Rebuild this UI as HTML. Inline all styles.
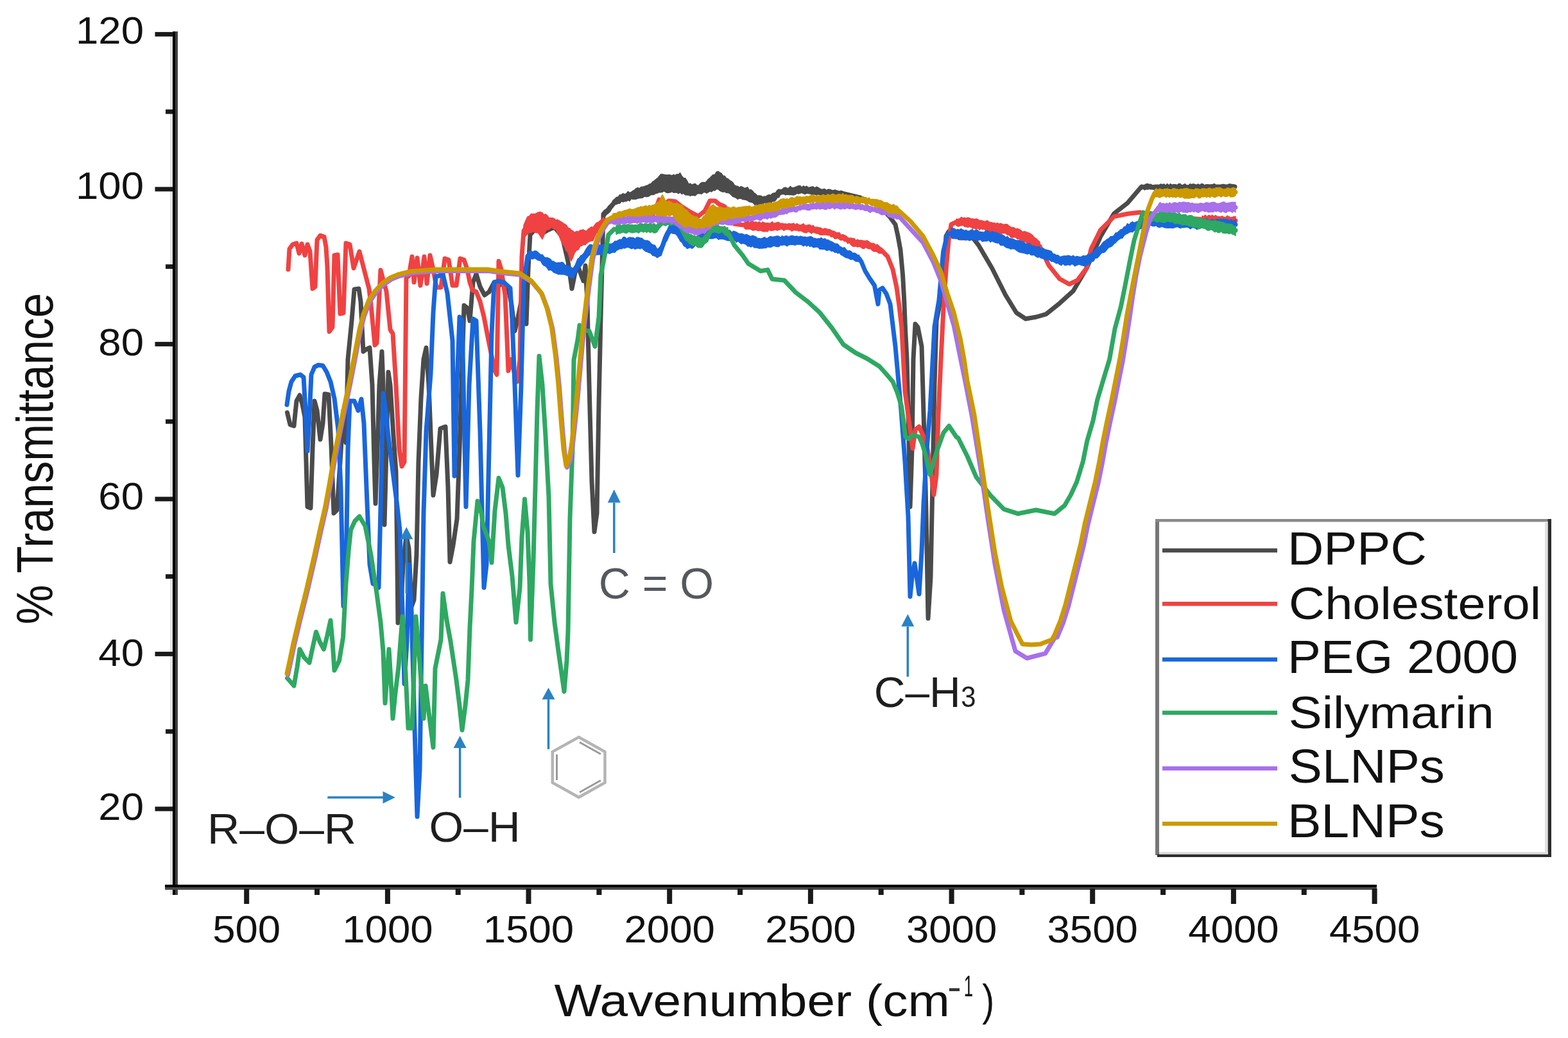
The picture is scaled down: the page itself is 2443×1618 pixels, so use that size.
<!DOCTYPE html>
<html><head><meta charset="utf-8"><title>FTIR spectra</title>
<style>html,body{margin:0;padding:0;background:#fff;} body{width:2443px;height:1618px;overflow:hidden;} svg{display:block;}</style>
</head><body>
<svg width="2443" height="1618" viewBox="0 0 2443 1618">
<rect x="0" y="0" width="2443" height="1618" fill="#fff"/>
<g id="axes">
<rect x="265" y="50" width="4" height="1345" fill="#e3e3e3"/>
<rect x="269" y="49" width="4" height="1346" fill="#000"/>
<rect x="273" y="49" width="4" height="1346" fill="#404040"/>
<rect x="257" y="1379" width="1888" height="4" fill="#000"/>
<rect x="257" y="1383" width="1888" height="4" fill="#4a4a4a"/>
<rect x="241.5" y="1257.4" width="28" height="7" fill="#1a1a1a"/>
<rect x="241.5" y="1015.9" width="28" height="7" fill="#1a1a1a"/>
<rect x="241.5" y="774.4" width="28" height="7" fill="#1a1a1a"/>
<rect x="241.5" y="532.9" width="28" height="7" fill="#1a1a1a"/>
<rect x="241.5" y="291.4" width="28" height="7" fill="#1a1a1a"/>
<rect x="241.5" y="49.9" width="28" height="7" fill="#1a1a1a"/>
<rect x="258" y="1136.7" width="11" height="7" fill="#1a1a1a"/>
<rect x="258" y="895.1" width="11" height="7" fill="#1a1a1a"/>
<rect x="258" y="653.6" width="11" height="7" fill="#1a1a1a"/>
<rect x="258" y="412.1" width="11" height="7" fill="#1a1a1a"/>
<rect x="258" y="170.6" width="11" height="7" fill="#1a1a1a"/>
<rect x="380.2" y="1385" width="8" height="24" fill="#1a1a1a"/>
<rect x="599.9" y="1385" width="8" height="24" fill="#1a1a1a"/>
<rect x="819.5" y="1385" width="8" height="24" fill="#1a1a1a"/>
<rect x="1039.2" y="1385" width="8" height="24" fill="#1a1a1a"/>
<rect x="1258.9" y="1385" width="8" height="24" fill="#1a1a1a"/>
<rect x="1478.6" y="1385" width="8" height="24" fill="#1a1a1a"/>
<rect x="1698.2" y="1385" width="8" height="24" fill="#1a1a1a"/>
<rect x="1917.9" y="1385" width="8" height="24" fill="#1a1a1a"/>
<rect x="2137.6" y="1385" width="8" height="24" fill="#1a1a1a"/>
<rect x="490.0" y="1385" width="8" height="10" fill="#1a1a1a"/>
<rect x="709.7" y="1385" width="8" height="10" fill="#1a1a1a"/>
<rect x="929.4" y="1385" width="8" height="10" fill="#1a1a1a"/>
<rect x="1149.1" y="1385" width="8" height="10" fill="#1a1a1a"/>
<rect x="1368.7" y="1385" width="8" height="10" fill="#1a1a1a"/>
<rect x="1588.4" y="1385" width="8" height="10" fill="#1a1a1a"/>
<rect x="1808.1" y="1385" width="8" height="10" fill="#1a1a1a"/>
<rect x="2027.8" y="1385" width="8" height="10" fill="#1a1a1a"/>
</g>
<g font-family="'Liberation Sans', Arial, Helvetica, sans-serif" fill="#111">
<text x="224" y="68.3" font-size="59.4" text-anchor="end" transform="translate(224 0) scale(1.07 1) translate(-224 0)">120</text>
<text x="224" y="310.3" font-size="59.4" text-anchor="end" transform="translate(224 0) scale(1.07 1) translate(-224 0)">100</text>
<text x="224" y="554.3" font-size="59.4" text-anchor="end" transform="translate(224 0) scale(1.07 1) translate(-224 0)">80</text>
<text x="224" y="794.3" font-size="59.4" text-anchor="end" transform="translate(224 0) scale(1.07 1) translate(-224 0)">60</text>
<text x="224" y="1038.3" font-size="59.4" text-anchor="end" transform="translate(224 0) scale(1.07 1) translate(-224 0)">40</text>
<text x="224" y="1278.3" font-size="59.4" text-anchor="end" transform="translate(224 0) scale(1.07 1) translate(-224 0)">20</text>
<text x="384.2" y="1469" font-size="59.4" text-anchor="middle" transform="translate(384.2 0) scale(1.07 1) translate(-384.2 0)">500</text>
<text x="603.9" y="1469" font-size="59.4" text-anchor="middle" transform="translate(603.9 0) scale(1.07 1) translate(-603.9 0)">1000</text>
<text x="823.5" y="1469" font-size="59.4" text-anchor="middle" transform="translate(823.5 0) scale(1.07 1) translate(-823.5 0)">1500</text>
<text x="1043.2" y="1469" font-size="59.4" text-anchor="middle" transform="translate(1043.2 0) scale(1.07 1) translate(-1043.2 0)">2000</text>
<text x="1262.9" y="1469" font-size="59.4" text-anchor="middle" transform="translate(1262.9 0) scale(1.07 1) translate(-1262.9 0)">2500</text>
<text x="1482.6" y="1469" font-size="59.4" text-anchor="middle" transform="translate(1482.6 0) scale(1.07 1) translate(-1482.6 0)">3000</text>
<text x="1702.2" y="1469" font-size="59.4" text-anchor="middle" transform="translate(1702.2 0) scale(1.07 1) translate(-1702.2 0)">3500</text>
<text x="1921.9" y="1469" font-size="59.4" text-anchor="middle" transform="translate(1921.9 0) scale(1.07 1) translate(-1921.9 0)">4000</text>
<text x="2141.6" y="1469" font-size="59.4" text-anchor="middle" transform="translate(2141.6 0) scale(1.07 1) translate(-2141.6 0)">4500</text>
</g>
<g transform="matrix(1.0902 0 0 0.9791 -77.44 32.81)"><text font-family="'Liberation Sans', Arial, Helvetica, sans-serif" font-size="72" fill="#111" x="863" y="1584.4">Wavenumber (cm</text></g>
<g transform="matrix(1.4818 0 0 1.3333 -715.57 -516.33)"><text font-family="'Liberation Sans', Arial, Helvetica, sans-serif" font-size="44.5" fill="#333" x="1479" y="1556">-</text></g>
<g transform="matrix(0.5800 0 0 1.0226 631.66 -34.87)"><text font-family="'Liberation Sans', Arial, Helvetica, sans-serif" font-size="44.5" fill="#111" x="1500" y="1553.2">1</text></g>
<g transform="matrix(0.7895 0 0 0.9478 323.89 81.03)"><text font-family="'Liberation Sans', Arial, Helvetica, sans-serif" font-size="72" fill="#111" x="1528" y="1584.4">)</text></g>
<g transform="matrix(1.1057 0 0 0.9631 -9.28 37.97)"><text font-family="'Liberation Sans', Arial, Helvetica, sans-serif" font-size="72" fill="#111" transform="translate(83 971) rotate(-90)" x="0" y="0">% Transmittance</text></g>
<g id="curves">
<polyline points="447.5,643.0 452.0,662.0 458.0,664.0 462.0,625.0 467.0,616.0 471.0,630.0 475.0,650.0 479.0,790.0 484.0,792.0 487.0,700.0 490.0,625.0 494.0,640.0 499.0,685.0 503.0,660.0 506.0,614.0 512.0,615.0 516.0,694.0 520.0,800.0 525.0,795.0 530.0,720.0 535.0,640.0 539.0,690.0 542.0,560.0 548.0,500.0 552.0,451.0 559.0,450.0 562.0,470.0 566.0,548.0 570.0,545.0 576.0,542.0 580.0,600.0 583.0,720.0 585.0,785.0 588.0,700.0 591.0,600.0 595.0,548.0 597.0,600.0 599.0,818.0 602.0,700.0 605.0,580.0 608.0,600.0 613.0,680.0 617.0,735.0 619.0,880.0 620.0,971.0 624.0,962.0 628.0,880.0 633.0,835.0 637.0,855.0 641.0,946.0 645.0,935.0 649.0,864.0 652.0,720.0 656.0,620.0 660.0,560.0 664.0,542.0 668.0,600.0 672.0,700.0 675.0,772.0 680.0,740.0 686.0,668.0 694.0,665.0 698.0,760.0 701.0,876.0 706.0,850.0 712.0,809.0 716.0,700.0 719.0,600.0 723.0,476.0 728.0,480.0 732.0,500.0 737.0,440.0 742.0,427.0 748.0,447.0 755.0,460.0 762.0,455.0 770.0,440.0 778.0,445.0 785.0,440.0 792.0,450.0 797.0,475.0 802.0,516.0 807.0,495.0 812.0,470.0 817.0,470.0 820.0,505.0 823.0,420.0 826.0,366.0 834.0,357.0 846.0,363.0 855.0,358.0 864.0,354.0 876.0,369.0 885.0,408.0 891.0,450.0 896.0,425.0 900.0,414.0 906.0,430.0 909.0,438.0 912.0,414.0 915.0,470.0 918.0,600.0 922.0,750.0 926.0,829.0 930.0,800.0 933.0,630.0 936.0,495.0 940.0,333.7 950.4,324.3 960.6,312.0 976.0,307.0 991.0,302.0 1006.5,298.5 1022.0,290.3 1032.0,284.5 1047.0,286.8 1059.6,285.5 1073.0,295.4 1088.0,295.9 1103.5,289.8 1118.8,281.0 1134.0,290.3 1149.4,299.9 1164.7,303.0 1175.0,308.5 1180.0,313.5 1190.6,312.0 1206.0,307.9 1216.0,299.4 1231.4,297.2 1251.8,296.2 1272.0,297.8 1292.6,299.8 1313.0,301.4 1340.0,308.0 1360.0,316.0 1375.0,326.0 1387.0,339.0 1395.0,350.0 1399.0,368.0 1403.0,390.0 1406.5,428.0 1408.7,467.0 1410.7,517.0 1413.0,560.0 1415.0,640.0 1418.0,790.0 1421.0,700.0 1423.0,560.0 1426.0,505.0 1430.0,510.0 1436.0,540.0 1440.0,680.0 1443.0,800.0 1446.0,964.0 1450.0,900.0 1453.0,750.0 1456.0,600.0 1459.0,500.0 1465.0,470.0 1470.0,428.0 1474.0,368.0 1478.0,361.0 1495.0,371.0 1516.0,371.0 1524.5,382.0 1545.6,418.0 1566.7,460.0 1583.6,487.5 1598.0,497.0 1615.0,494.0 1630.0,489.6 1651.0,472.7 1672.0,453.7 1693.0,418.0 1714.5,369.0 1735.6,333.0 1756.7,316.5 1778.0,291.5 1800.0,292.0 1830.0,291.0 1860.0,292.0 1890.0,291.0 1924.0,291.0" fill="none" stroke="#4b4b4b" stroke-width="7.0" stroke-linejoin="round" stroke-linecap="round" />
<polygon points="940.0,329.4 942.6,327.1 945.2,325.7 947.8,321.5 950.4,319.0 953.0,316.3 955.5,312.0 958.0,310.0 960.6,307.4 963.2,306.9 965.7,303.7 968.3,303.4 970.9,301.7 973.4,303.0 976.0,301.6 978.5,298.5 981.0,300.5 983.5,299.5 986.0,297.5 988.5,296.4 991.0,293.9 993.6,292.8 996.2,293.8 998.8,291.6 1001.3,291.3 1003.9,290.8 1006.5,289.5 1009.1,289.0 1011.7,287.0 1014.2,286.4 1016.8,283.5 1019.4,281.9 1022.0,279.6 1024.5,277.7 1027.0,274.7 1029.5,271.7 1032.0,271.6 1034.5,272.3 1037.0,272.6 1039.5,272.9 1042.0,272.4 1044.5,272.9 1047.0,273.8 1049.5,272.2 1052.0,273.6 1054.6,271.5 1057.1,272.0 1059.6,269.6 1062.3,274.6 1065.0,277.4 1067.6,277.8 1070.3,281.6 1073.0,287.0 1075.5,286.1 1078.0,288.3 1080.5,286.9 1083.0,286.4 1085.5,288.7 1088.0,289.7 1090.6,286.7 1093.2,284.7 1095.8,284.2 1098.3,284.8 1100.9,282.8 1103.5,279.4 1106.0,277.5 1108.6,274.8 1111.2,272.4 1113.7,272.5 1116.2,268.2 1118.8,267.2 1121.3,268.9 1123.9,270.2 1126.4,274.0 1128.9,274.2 1131.5,278.0 1134.0,278.4 1136.6,281.2 1139.1,282.4 1141.7,284.5 1144.3,288.6 1146.8,289.9 1149.4,290.2 1152.0,292.4 1154.5,290.6 1157.1,291.6 1159.6,293.4 1162.2,293.1 1164.7,291.7 1167.3,296.3 1169.8,295.6 1172.4,297.5 1175.0,300.9 1177.5,302.5 1180.0,305.3 1182.7,304.9 1185.3,305.2 1187.9,307.0 1190.6,306.2 1193.2,306.3 1195.7,304.5 1198.3,303.8 1200.9,304.3 1203.4,301.8 1206.0,301.0 1208.5,300.4 1211.0,296.7 1213.5,295.1 1216.0,296.0 1218.6,295.2 1221.1,292.9 1223.7,292.2 1226.3,293.4 1228.8,293.5 1231.4,290.6 1234.0,292.9 1236.5,292.6 1239.0,291.6 1241.6,290.8 1244.2,289.7 1246.7,289.4 1249.2,292.2 1251.8,289.8 1254.3,291.5 1256.8,290.3 1259.4,292.4 1261.9,292.0 1264.4,291.3 1267.0,291.1 1269.5,293.1 1272.0,291.3 1274.6,292.3 1277.2,293.9 1279.7,295.3 1282.3,295.1 1284.9,294.5 1287.4,297.0 1290.0,295.3 1292.6,295.2 1295.1,296.2 1297.7,297.1 1300.2,296.1 1302.8,296.7 1305.3,297.6 1307.9,298.5 1310.5,297.4 1313.0,298.4 1313.0,303.9 1310.5,305.3 1307.9,304.7 1305.3,304.8 1302.8,303.7 1300.2,302.9 1297.7,304.5 1295.1,303.4 1292.6,302.8 1290.0,301.7 1287.4,303.6 1284.9,304.3 1282.3,301.6 1279.7,304.2 1277.2,303.8 1274.6,302.6 1272.0,303.7 1269.5,303.1 1267.0,302.7 1264.4,303.1 1261.9,301.9 1259.4,301.5 1256.8,301.0 1254.3,302.6 1251.8,301.7 1249.2,300.4 1246.7,301.0 1244.2,302.1 1241.6,301.4 1239.0,303.1 1236.5,304.1 1234.0,303.7 1231.4,303.4 1228.8,303.5 1226.3,303.1 1223.7,303.9 1221.1,302.2 1218.6,302.7 1216.0,303.2 1213.5,307.8 1211.0,308.0 1208.5,312.1 1206.0,313.8 1203.4,313.8 1200.9,316.6 1198.3,315.4 1195.7,316.6 1193.2,317.3 1190.6,315.5 1187.9,319.2 1185.3,317.5 1182.7,318.6 1180.0,320.8 1177.5,320.5 1175.0,318.1 1172.4,315.4 1169.8,315.0 1167.3,314.4 1164.7,312.7 1162.2,311.4 1159.6,310.9 1157.1,310.8 1154.5,309.3 1152.0,309.0 1149.4,310.4 1146.8,308.3 1144.3,307.4 1141.7,306.1 1139.1,303.7 1136.6,301.2 1134.0,300.4 1131.5,300.3 1128.9,298.6 1126.4,299.2 1123.9,298.3 1121.3,297.0 1118.8,294.8 1116.2,294.7 1113.7,296.9 1111.2,296.4 1108.6,298.9 1106.0,298.1 1103.5,299.5 1100.9,301.0 1098.3,299.3 1095.8,300.0 1093.2,302.2 1090.6,301.7 1088.0,301.4 1085.5,302.6 1083.0,305.0 1080.5,304.4 1078.0,304.3 1075.5,305.3 1073.0,304.1 1070.3,304.1 1067.6,303.7 1065.0,301.1 1062.3,302.6 1059.6,299.7 1057.1,301.7 1054.6,300.0 1052.0,300.1 1049.5,300.2 1047.0,298.6 1044.5,299.7 1042.0,300.2 1039.5,300.6 1037.0,299.4 1034.5,297.7 1032.0,299.3 1029.5,299.8 1027.0,299.6 1024.5,300.9 1022.0,301.2 1019.4,303.0 1016.8,303.6 1014.2,303.2 1011.7,305.5 1009.1,306.4 1006.5,306.6 1003.9,306.0 1001.3,308.3 998.8,308.4 996.2,308.7 993.6,309.3 991.0,310.3 988.5,310.4 986.0,310.5 983.5,309.6 981.0,313.3 978.5,311.8 976.0,313.7 973.4,313.6 970.9,314.8 968.3,313.5 965.7,317.1 963.2,317.0 960.6,318.3 958.0,318.6 955.5,321.8 953.0,325.3 950.4,329.9 947.8,332.3 945.2,334.2 942.6,337.3 940.0,339.1" fill="#4b4b4b" stroke="#4b4b4b" stroke-width="1.5" stroke-linejoin="round"/>
<polygon points="1778.0,287.9 1780.5,288.5 1783.1,288.5 1785.6,286.9 1788.1,286.4 1790.7,287.6 1793.2,287.3 1795.7,289.0 1798.3,288.6 1800.8,288.3 1803.3,288.2 1805.9,288.5 1808.4,286.9 1810.9,287.8 1813.5,286.9 1816.0,289.3 1818.6,286.6 1821.1,289.0 1823.6,286.6 1826.2,288.6 1828.7,287.5 1831.2,287.7 1833.8,289.1 1836.3,286.5 1838.8,286.6 1841.4,289.3 1843.9,288.0 1846.4,286.7 1849.0,289.6 1851.5,289.4 1854.0,286.8 1856.6,287.8 1859.1,286.8 1861.6,287.4 1864.2,288.4 1866.7,286.9 1869.2,288.6 1871.8,286.6 1874.3,286.9 1876.8,289.0 1879.4,287.7 1881.9,287.7 1884.4,288.3 1887.0,287.9 1889.5,287.6 1892.1,286.5 1894.6,288.7 1897.1,289.5 1899.7,289.5 1902.2,288.5 1904.7,287.5 1907.3,287.6 1909.8,288.6 1912.3,288.6 1914.9,286.8 1917.4,287.2 1919.9,287.6 1922.5,288.0 1925.0,289.0 1925.0,296.4 1922.5,294.3 1919.9,296.2 1917.4,294.3 1914.9,293.9 1912.3,296.3 1909.8,296.4 1907.3,294.2 1904.7,295.4 1902.2,294.9 1899.7,295.1 1897.1,294.1 1894.6,295.4 1892.1,296.1 1889.5,295.9 1887.0,294.4 1884.4,293.5 1881.9,295.0 1879.4,296.6 1876.8,296.5 1874.3,295.4 1871.8,293.5 1869.2,293.4 1866.7,294.2 1864.2,294.5 1861.6,295.9 1859.1,294.3 1856.6,293.4 1854.0,296.3 1851.5,295.8 1849.0,294.0 1846.4,294.6 1843.9,296.4 1841.4,293.9 1838.8,296.5 1836.3,294.9 1833.8,296.5 1831.2,294.9 1828.7,294.3 1826.2,294.1 1823.6,294.9 1821.1,293.6 1818.6,295.4 1816.0,294.5 1813.5,294.3 1810.9,293.5 1808.4,295.6 1805.9,294.0 1803.3,295.2 1800.8,293.7 1798.3,295.9 1795.7,294.6 1793.2,294.8 1790.7,294.1 1788.1,295.1 1785.6,294.8 1783.1,296.0 1780.5,293.5 1778.0,295.0" fill="#4b4b4b" stroke="#4b4b4b" stroke-width="1.5" stroke-linejoin="round"/>
<polyline points="449.0,420.0 451.0,388.0 456.0,381.0 462.0,379.0 466.0,395.0 470.0,380.0 475.0,398.0 479.0,381.0 483.0,392.0 487.0,450.0 491.0,447.0 494.0,374.0 499.0,367.0 505.0,369.0 508.0,385.0 510.0,416.0 513.0,517.0 518.0,510.0 521.0,398.0 526.0,397.0 530.0,489.0 535.0,488.0 539.0,379.0 545.0,381.0 551.0,418.0 560.0,392.0 569.0,427.0 575.0,450.0 578.0,475.0 584.0,538.0 587.0,535.0 593.0,421.0 598.0,440.0 602.0,454.0 608.0,514.0 612.0,520.0 617.0,600.0 622.0,700.0 626.0,727.0 630.0,720.0 633.0,433.0 637.0,430.0 642.0,400.0 645.0,440.0 650.0,402.0 655.0,445.0 661.0,400.0 665.0,442.0 670.0,398.0 675.0,420.0 680.0,448.0 687.0,448.0 693.0,403.0 699.0,405.0 705.0,445.0 711.0,445.0 717.0,403.0 723.0,405.0 728.0,420.0 732.0,440.0 736.0,452.0 742.0,455.0 748.0,470.0 754.0,494.0 759.0,520.0 765.0,550.0 771.0,578.0 774.0,584.0 777.0,407.0 781.0,420.0 787.0,460.0 792.0,578.0 797.0,560.0 801.0,580.0 806.0,595.0 810.0,560.0 813.0,400.0 816.0,360.0 822.0,351.0 830.0,346.5 838.0,346.5 845.0,353.0 850.0,347.5 858.0,347.0 866.0,350.0 876.0,362.0 885.0,375.0 890.0,384.0 895.0,378.5 904.0,372.5 914.0,369.5 924.0,364.5 932.0,353.0 940.0,345.0 940.0,345.0 960.0,343.0 980.0,342.0 1000.0,342.0 1015.0,338.0 1022.0,325.0 1027.0,311.0 1033.0,320.0 1042.0,313.0 1052.0,314.0 1062.0,322.0 1073.0,329.0 1088.0,337.0 1098.0,329.0 1106.0,313.0 1114.0,313.0 1120.0,318.0 1129.0,322.0 1136.0,335.0 1144.0,349.0 1160.0,350.9 1190.6,353.4 1221.0,352.9 1251.8,355.4 1272.0,359.0 1292.6,363.0 1313.0,370.5 1333.5,379.2 1354.0,382.3 1374.0,390.6 1383.0,400.0 1391.0,420.0 1397.0,448.0 1401.0,477.0 1404.8,510.0 1410.0,610.0 1415.0,647.0 1418.0,670.0 1422.0,699.0 1426.0,670.0 1432.0,665.0 1439.0,681.0 1445.0,700.0 1450.0,730.0 1455.0,771.0 1459.0,740.0 1462.0,647.0 1466.0,560.0 1470.0,480.0 1474.0,420.0 1478.0,375.0 1482.0,350.0 1490.0,346.0 1503.0,346.0 1566.7,357.5 1609.0,374.5 1620.0,384.0 1634.0,413.6 1651.0,434.7 1666.0,443.0 1678.6,436.8 1693.0,418.0 1700.0,388.0 1714.5,358.7 1735.6,337.6 1756.7,333.3 1775.7,331.0 1800.0,335.0 1830.0,338.0 1873.0,342.0 1925.0,344.0" fill="none" stroke="#f04242" stroke-width="7.0" stroke-linejoin="round" stroke-linecap="round" />
<polygon points="816.0,351.3 819.0,344.1 822.0,337.9 824.7,337.0 827.3,333.6 830.0,333.4 832.7,333.6 835.3,332.9 838.0,331.2 841.5,330.4 845.0,331.7 847.5,335.1 850.0,333.7 852.7,336.1 855.3,339.8 858.0,339.8 860.7,339.7 863.3,340.7 866.0,343.3 868.5,342.5 871.0,343.8 873.5,345.4 876.0,347.0 879.0,349.0 882.0,350.7 885.0,355.2 887.5,356.0 890.0,358.7 892.5,360.0 895.0,362.6 898.0,360.6 901.0,361.3 904.0,358.9 906.5,358.5 909.0,358.0 911.5,359.9 914.0,360.1 916.5,356.9 919.0,355.7 921.5,353.7 924.0,354.5 926.7,350.7 929.3,347.5 932.0,346.5 934.7,344.3 937.3,341.8 940.0,338.9 940.0,349.4 937.3,352.2 934.7,356.8 932.0,360.5 929.3,363.5 926.7,368.4 924.0,375.0 921.5,375.4 919.0,376.0 916.5,377.3 914.0,379.4 911.5,381.8 909.0,381.2 906.5,383.0 904.0,383.7 901.0,389.1 898.0,390.3 895.0,394.5 892.5,401.4 890.0,406.8 887.5,402.0 885.0,393.6 882.0,390.2 879.0,383.8 876.0,379.4 873.5,373.7 871.0,367.4 868.5,363.5 866.0,356.4 863.3,357.9 860.7,354.1 858.0,355.1 855.3,357.6 852.7,357.8 850.0,360.1 847.5,367.3 845.0,372.8 841.5,367.5 838.0,362.3 835.3,362.9 832.7,361.3 830.0,361.2 827.3,363.0 824.7,362.3 822.0,364.8 819.0,367.7 816.0,370.4" fill="#f04242" stroke="#f04242" stroke-width="1.5" stroke-linejoin="round"/>
<polygon points="940.0,339.9 942.5,341.4 945.0,340.9 947.5,340.2 950.0,339.1 952.5,340.7 955.0,340.5 957.5,339.3 960.0,339.0 962.5,338.0 965.0,337.2 967.5,338.2 970.0,338.8 972.5,337.0 975.0,339.2 977.5,337.3 980.0,337.1 982.5,336.5 985.0,339.6 987.5,338.8 990.0,339.2 992.5,338.4 995.0,336.5 997.5,337.5 1000.0,338.0 1000.0,345.9 997.5,344.8 995.0,346.7 992.5,346.3 990.0,346.8 987.5,346.8 985.0,347.3 982.5,347.5 980.0,345.1 977.5,347.0 975.0,345.4 972.5,347.5 970.0,345.0 967.5,345.6 965.0,346.7 962.5,346.4 960.0,347.2 957.5,347.1 955.0,348.9 952.5,346.5 950.0,349.0 947.5,347.1 945.0,348.1 942.5,350.2 940.0,347.8" fill="#f04242" stroke="#f04242" stroke-width="1.5" stroke-linejoin="round"/>
<polygon points="1160.0,347.2 1162.5,344.6 1165.1,344.3 1167.7,347.5 1170.2,345.0 1172.8,344.9 1175.3,346.7 1177.8,345.8 1180.4,347.6 1182.9,345.6 1185.5,348.0 1188.0,346.0 1190.6,347.0 1193.1,348.2 1195.7,347.5 1198.2,348.3 1200.7,347.7 1203.3,345.7 1205.8,348.5 1208.3,347.6 1210.9,346.8 1213.4,346.5 1215.9,348.7 1218.5,348.0 1221.0,349.2 1223.6,348.8 1226.1,349.6 1228.7,348.5 1231.3,349.1 1233.8,349.0 1236.4,348.0 1239.0,350.4 1241.5,348.5 1244.1,350.2 1246.7,350.9 1249.2,350.1 1251.8,348.7 1254.3,351.4 1256.8,351.4 1259.4,350.4 1261.9,350.5 1264.4,352.5 1267.0,351.5 1269.5,354.8 1272.0,354.0 1274.6,354.6 1277.2,354.7 1279.7,356.0 1282.3,357.3 1284.9,355.9 1287.4,356.6 1290.0,357.8 1292.6,357.4 1295.1,359.3 1297.7,360.1 1300.2,360.8 1302.8,362.6 1305.3,363.1 1307.9,362.7 1310.5,366.6 1313.0,365.5 1315.6,366.8 1318.1,367.7 1320.7,370.4 1323.2,371.4 1325.8,371.0 1328.4,371.7 1330.9,371.7 1333.5,375.3 1336.1,373.3 1338.6,374.9 1341.2,374.6 1343.8,375.0 1346.3,375.4 1348.9,375.3 1351.4,375.1 1354.0,377.1 1356.5,379.0 1359.0,379.6 1361.5,379.2 1364.0,381.9 1366.5,380.9 1369.0,383.1 1371.5,385.5 1374.0,386.8 1374.0,394.7 1371.5,394.7 1369.0,394.8 1366.5,392.2 1364.0,391.8 1361.5,391.9 1359.0,390.6 1356.5,387.6 1354.0,388.0 1351.4,386.8 1348.9,385.3 1346.3,387.5 1343.8,387.2 1341.2,385.2 1338.6,384.1 1336.1,385.0 1333.5,383.6 1330.9,384.4 1328.4,383.7 1325.8,381.4 1323.2,378.2 1320.7,379.4 1318.1,375.9 1315.6,376.1 1313.0,373.5 1310.5,374.5 1307.9,373.2 1305.3,371.0 1302.8,372.0 1300.2,371.9 1297.7,368.7 1295.1,369.4 1292.6,366.6 1290.0,366.8 1287.4,366.1 1284.9,365.7 1282.3,365.9 1279.7,366.2 1277.2,365.8 1274.6,364.1 1272.0,364.0 1269.5,362.7 1267.0,361.8 1264.4,364.0 1261.9,362.1 1259.4,360.6 1256.8,362.8 1254.3,362.7 1251.8,361.8 1249.2,360.3 1246.7,359.6 1244.1,360.2 1241.5,358.7 1239.0,359.0 1236.4,358.5 1233.8,360.4 1231.3,358.2 1228.7,357.8 1226.1,357.3 1223.6,357.8 1221.0,359.5 1218.5,356.7 1215.9,357.6 1213.4,358.3 1210.9,359.3 1208.3,357.8 1205.8,358.5 1203.3,359.6 1200.7,359.3 1198.2,358.0 1195.7,361.1 1193.1,360.2 1190.6,361.0 1188.0,360.6 1185.5,358.9 1182.9,359.5 1180.4,359.4 1177.8,358.2 1175.3,358.8 1172.8,359.2 1170.2,357.6 1167.7,357.1 1165.1,356.7 1162.5,357.4 1160.0,355.9" fill="#f04242" stroke="#f04242" stroke-width="1.5" stroke-linejoin="round"/>
<polygon points="1490.0,341.4 1492.6,341.4 1495.2,341.1 1497.8,338.5 1500.4,340.1 1503.0,339.5 1505.5,340.2 1508.1,339.3 1510.6,340.0 1513.2,341.2 1515.7,340.9 1518.3,342.0 1520.8,341.1 1523.4,341.7 1525.9,344.1 1528.5,343.6 1531.0,344.3 1533.6,345.4 1536.1,344.6 1538.7,344.1 1541.2,346.8 1543.8,346.6 1546.3,347.2 1548.9,347.5 1551.4,349.0 1554.0,347.5 1556.5,349.2 1559.1,348.3 1561.6,349.4 1564.2,350.1 1566.7,349.4 1569.3,349.7 1572.0,352.0 1574.6,353.9 1577.3,354.5 1579.9,355.1 1582.6,356.8 1585.2,356.4 1587.8,357.5 1590.5,359.0 1593.1,361.6 1595.8,360.7 1598.4,361.5 1601.1,362.5 1603.7,363.4 1606.4,365.2 1609.0,367.2 1611.8,370.8 1614.5,372.0 1617.2,374.8 1620.0,377.3 1620.0,389.7 1617.2,388.6 1614.5,387.3 1611.8,385.0 1609.0,383.3 1606.4,380.4 1603.7,379.7 1601.1,380.1 1598.4,377.5 1595.8,375.9 1593.1,376.6 1590.5,374.7 1587.8,372.4 1585.2,372.5 1582.6,370.1 1579.9,369.4 1577.3,370.7 1574.6,369.6 1572.0,366.2 1569.3,366.0 1566.7,363.6 1564.2,363.5 1561.6,363.6 1559.1,365.0 1556.5,362.5 1554.0,363.3 1551.4,363.5 1548.9,361.6 1546.3,362.4 1543.8,361.4 1541.2,361.4 1538.7,360.0 1536.1,359.9 1533.6,356.9 1531.0,357.6 1528.5,356.0 1525.9,358.4 1523.4,355.3 1520.8,357.3 1518.3,355.6 1515.7,356.2 1513.2,354.5 1510.6,353.0 1508.1,354.4 1505.5,353.5 1503.0,353.2 1500.4,351.0 1497.8,351.4 1495.2,352.3 1492.6,352.9 1490.0,351.4" fill="#f04242" stroke="#f04242" stroke-width="1.5" stroke-linejoin="round"/>
<polygon points="1873.0,336.7 1875.6,337.2 1878.2,335.2 1880.8,337.9 1883.4,335.4 1886.0,337.0 1888.6,335.3 1891.2,337.5 1893.8,335.7 1896.4,337.6 1899.0,337.7 1901.6,338.0 1904.2,337.0 1906.8,338.5 1909.4,339.0 1912.0,336.3 1914.6,337.7 1917.2,339.2 1919.8,338.6 1922.4,337.7 1925.0,337.4 1925.0,349.3 1922.4,351.1 1919.8,351.4 1917.2,350.7 1914.6,350.6 1912.0,350.0 1909.4,348.1 1906.8,347.9 1904.2,350.5 1901.6,348.5 1899.0,350.4 1896.4,350.2 1893.8,348.4 1891.2,348.8 1888.6,348.0 1886.0,347.9 1883.4,347.3 1880.8,349.4 1878.2,349.0 1875.6,346.8 1873.0,349.4" fill="#f04242" stroke="#f04242" stroke-width="1.5" stroke-linejoin="round"/>
<polyline points="447.0,631.0 450.0,610.0 454.0,595.0 460.0,586.0 468.0,584.0 473.0,588.0 476.0,640.0 479.0,703.0 482.0,650.0 485.0,584.0 490.0,572.0 496.0,569.0 503.0,570.0 509.0,580.0 515.0,595.0 521.0,621.0 527.0,670.0 531.0,760.0 535.0,945.0 539.0,900.0 542.0,700.0 545.0,625.0 552.0,625.0 558.0,640.0 563.0,622.0 567.0,660.0 571.0,760.0 576.0,880.0 581.0,910.0 587.0,912.0 590.0,916.0 594.0,750.0 597.0,613.0 601.0,640.0 605.0,680.0 612.0,735.0 619.0,790.0 623.0,827.0 627.0,950.0 630.0,1066.0 634.0,1000.0 637.0,880.0 641.0,950.0 645.0,1100.0 650.0,1273.0 654.0,1200.0 657.0,1000.0 660.0,800.0 664.0,672.0 671.0,583.0 675.0,487.0 679.0,431.0 684.0,430.0 690.0,427.0 697.0,457.0 705.0,531.0 708.0,742.0 712.0,600.0 716.0,494.0 720.0,500.0 726.0,790.0 731.0,600.0 737.0,497.0 742.0,500.0 748.0,673.0 754.0,916.0 758.0,880.0 762.0,700.0 766.0,520.0 770.0,440.0 776.0,438.0 785.0,440.0 795.0,449.0 798.0,500.0 802.0,600.0 807.0,741.0 812.0,600.0 816.0,441.0 822.0,399.0 835.0,397.0 845.0,403.5 855.0,412.0 865.0,416.5 875.0,419.0 885.0,422.0 893.0,426.0 900.0,412.5 910.0,400.5 919.0,389.0 929.0,389.5 930.0,390.5 950.0,388.0 971.0,379.0 1000.0,379.0 1017.0,389.0 1024.0,395.0 1030.0,389.5 1037.0,370.0 1045.0,356.0 1052.0,357.0 1060.0,367.5 1068.0,380.0 1078.0,380.0 1090.0,372.0 1105.0,365.0 1114.0,365.0 1130.0,366.0 1150.0,370.0 1170.0,376.0 1180.4,378.8 1200.8,377.2 1221.0,375.7 1241.6,374.7 1262.0,376.8 1282.4,380.3 1302.9,386.4 1323.3,397.3 1338.6,402.9 1342.0,408.0 1348.0,422.5 1355.0,434.0 1362.5,445.0 1368.0,474.0 1370.0,452.0 1375.0,449.0 1381.0,458.0 1387.0,474.0 1395.0,540.0 1404.0,640.0 1410.0,720.0 1415.0,805.0 1418.0,930.0 1421.0,900.0 1425.0,878.0 1429.0,905.0 1432.0,926.0 1436.0,860.0 1439.0,785.0 1444.0,700.0 1449.0,640.0 1456.0,509.0 1463.0,467.6 1469.6,392.5 1476.0,365.0 1482.0,364.0 1545.6,369.0 1588.0,383.8 1630.0,397.0 1651.0,405.4 1693.0,407.0 1714.5,389.5 1756.7,357.0 1788.0,345.5 1860.0,349.0 1925.0,350.0" fill="none" stroke="#1966dc" stroke-width="7.0" stroke-linejoin="round" stroke-linecap="round" />
<polygon points="822.0,393.1 824.6,392.1 827.2,391.1 829.8,392.9 832.4,391.3 835.0,391.2 837.5,392.9 840.0,395.0 842.5,397.3 845.0,396.9 847.5,400.3 850.0,402.1 852.5,401.4 855.0,402.6 857.5,403.9 860.0,407.1 862.5,407.3 865.0,409.3 867.5,410.0 870.0,409.5 872.5,409.6 875.0,408.6 877.5,409.5 880.0,413.0 882.5,413.6 885.0,414.8 887.7,415.5 890.3,417.2 893.0,418.4 896.5,412.8 900.0,403.8 902.5,402.0 905.0,398.4 907.5,397.1 910.0,394.2 913.0,388.5 916.0,384.3 919.0,381.2 921.5,381.4 924.0,382.9 926.5,381.7 929.0,382.8 929.0,397.6 926.5,396.2 924.0,396.6 921.5,397.7 919.0,396.7 916.0,400.1 913.0,403.6 910.0,408.6 907.5,411.5 905.0,415.0 902.5,416.6 900.0,420.4 896.5,426.6 893.0,434.0 890.3,433.1 887.7,432.1 885.0,429.8 882.5,429.1 880.0,428.1 877.5,427.6 875.0,427.7 872.5,427.3 870.0,427.5 867.5,426.3 865.0,425.6 862.5,424.4 860.0,421.7 857.5,420.5 855.0,421.4 852.5,417.5 850.0,414.9 847.5,413.9 845.0,411.4 842.5,406.6 840.0,406.1 837.5,405.4 835.0,403.2 832.4,402.6 829.8,403.7 827.2,402.8 824.6,404.5 822.0,404.4" fill="#1966dc" stroke="#1966dc" stroke-width="1.5" stroke-linejoin="round"/>
<polygon points="930.0,381.4 932.5,381.5 935.0,382.2 937.5,382.8 940.0,380.8 942.5,380.5 945.0,380.6 947.5,382.1 950.0,379.9 952.6,380.5 955.2,379.0 957.9,376.1 960.5,376.1 963.1,374.6 965.8,373.2 968.4,373.8 971.0,369.7 973.6,369.5 976.3,372.4 978.9,370.7 981.5,370.0 984.2,370.5 986.8,370.6 989.5,372.5 992.1,370.1 994.7,370.1 997.4,371.3 1000.0,371.2 1002.8,374.0 1005.7,375.1 1008.5,375.0 1011.3,376.1 1014.2,379.6 1017.0,381.6 1020.5,382.5 1024.0,388.8 1027.0,386.2 1030.0,382.5 1033.5,371.1 1037.0,362.9 1039.7,358.4 1042.3,352.4 1045.0,349.5 1048.5,348.6 1052.0,348.5 1054.7,352.8 1057.3,356.1 1060.0,359.7 1062.7,365.1 1065.3,370.4 1068.0,375.5 1070.5,375.5 1073.0,375.6 1075.5,374.9 1078.0,373.4 1081.0,370.7 1084.0,369.9 1087.0,367.4 1090.0,365.6 1092.5,362.5 1095.0,361.7 1097.5,362.8 1100.0,360.7 1102.5,359.8 1105.0,356.7 1108.0,357.7 1111.0,359.3 1114.0,358.5 1116.7,359.7 1119.3,357.4 1122.0,358.4 1124.7,359.6 1127.3,358.7 1130.0,359.9 1132.5,359.7 1135.0,358.8 1137.5,359.2 1140.0,362.5 1142.5,360.3 1145.0,361.0 1147.5,362.0 1150.0,363.7 1152.5,364.8 1155.0,364.2 1157.5,364.9 1160.0,366.4 1162.5,365.4 1165.0,366.3 1167.5,367.7 1170.0,368.4 1172.6,367.3 1175.2,368.3 1177.8,369.1 1180.4,371.7 1183.0,371.5 1185.5,372.3 1188.0,371.5 1190.6,369.7 1193.2,371.2 1195.7,371.8 1198.2,369.6 1200.8,368.4 1203.3,369.5 1205.8,369.1 1208.4,368.6 1210.9,368.0 1213.4,368.2 1216.0,370.4 1218.5,367.7 1221.0,369.4 1223.6,367.9 1226.2,367.8 1228.7,369.7 1231.3,367.9 1233.9,367.4 1236.4,368.1 1239.0,368.7 1241.6,368.1 1244.1,369.4 1246.7,368.2 1249.2,368.8 1251.8,369.7 1254.3,369.1 1256.9,370.2 1259.5,369.6 1262.0,368.8 1264.5,369.0 1267.1,371.4 1269.7,371.5 1272.2,372.4 1274.8,371.9 1277.3,371.8 1279.9,370.7 1282.4,373.1 1285.0,371.8 1287.5,373.8 1290.1,373.9 1292.7,375.6 1295.2,376.4 1297.8,377.8 1300.3,379.7 1302.9,380.1 1305.5,380.6 1308.0,383.8 1310.5,385.1 1313.1,386.8 1315.7,385.8 1318.2,389.1 1320.8,391.4 1323.3,390.8 1325.8,391.7 1328.4,394.7 1330.9,394.3 1333.5,395.4 1336.0,397.8 1338.6,397.4 1338.6,408.1 1336.0,407.5 1333.5,407.3 1330.9,405.6 1328.4,403.9 1325.8,404.7 1323.3,403.3 1320.8,401.9 1318.2,401.7 1315.7,400.3 1313.1,398.2 1310.5,397.2 1308.0,394.1 1305.5,394.9 1302.9,392.9 1300.3,393.3 1297.8,391.1 1295.2,391.5 1292.7,389.2 1290.1,390.1 1287.5,390.2 1285.0,388.6 1282.4,388.6 1279.9,388.1 1277.3,388.3 1274.8,385.4 1272.2,384.7 1269.7,385.2 1267.1,385.7 1264.5,383.4 1262.0,384.4 1259.5,382.0 1256.9,383.8 1254.3,381.7 1251.8,383.7 1249.2,381.4 1246.7,381.0 1244.1,380.7 1241.6,380.9 1239.0,382.1 1236.4,381.5 1233.9,381.0 1231.3,381.3 1228.7,381.8 1226.2,383.6 1223.6,381.8 1221.0,381.5 1218.5,382.3 1216.0,381.7 1213.4,384.4 1210.9,384.6 1208.4,384.0 1205.8,382.8 1203.3,384.1 1200.8,385.4 1198.2,384.9 1195.7,384.8 1193.2,386.6 1190.6,386.3 1188.0,387.1 1185.5,386.8 1183.0,387.3 1180.4,386.2 1177.8,385.7 1175.2,386.0 1172.6,383.1 1170.0,385.1 1167.5,383.7 1165.0,383.7 1162.5,381.1 1160.0,380.1 1157.5,379.1 1155.0,380.1 1152.5,378.1 1150.0,375.6 1147.5,377.6 1145.0,374.7 1142.5,374.4 1140.0,374.5 1137.5,375.2 1135.0,375.0 1132.5,374.8 1130.0,373.6 1127.3,372.8 1124.7,372.6 1122.0,372.3 1119.3,373.3 1116.7,370.6 1114.0,370.9 1111.0,371.8 1108.0,372.1 1105.0,371.7 1102.5,371.7 1100.0,373.7 1097.5,374.1 1095.0,375.5 1092.5,379.4 1090.0,379.0 1087.0,379.9 1084.0,381.1 1081.0,385.2 1078.0,387.5 1075.5,385.4 1073.0,386.6 1070.5,387.5 1068.0,384.6 1065.3,383.0 1062.7,377.8 1060.0,376.0 1057.3,371.0 1054.7,366.8 1052.0,364.2 1048.5,364.1 1045.0,362.6 1042.3,367.4 1039.7,374.1 1037.0,378.1 1033.5,388.1 1030.0,398.4 1027.0,399.6 1024.0,401.6 1020.5,399.0 1017.0,398.2 1014.2,394.9 1011.3,393.8 1008.5,392.6 1005.7,391.8 1002.8,389.2 1000.0,386.1 997.4,387.9 994.7,386.7 992.1,387.3 989.5,388.3 986.8,386.4 984.2,387.8 981.5,386.6 978.9,385.4 976.3,385.4 973.6,386.9 971.0,386.4 968.4,387.9 965.8,387.5 963.1,389.0 960.5,390.3 957.9,393.4 955.2,393.0 952.6,393.9 950.0,395.4 947.5,394.6 945.0,394.4 942.5,397.0 940.0,396.1 937.5,397.5 935.0,396.8 932.5,396.7 930.0,397.0" fill="#1966dc" stroke="#1966dc" stroke-width="1.5" stroke-linejoin="round"/>
<polygon points="1482.0,355.2 1484.5,355.9 1487.1,356.4 1489.6,358.5 1492.2,357.5 1494.7,358.4 1497.3,356.6 1499.8,358.1 1502.4,359.4 1504.9,358.6 1507.4,360.2 1510.0,360.2 1512.5,358.8 1515.1,357.8 1517.6,360.4 1520.2,358.6 1522.7,358.5 1525.2,361.0 1527.8,361.6 1530.3,361.8 1532.9,362.4 1535.4,360.2 1538.0,360.0 1540.5,360.4 1543.1,363.3 1545.6,360.8 1548.2,361.8 1550.9,362.2 1553.5,363.1 1556.2,363.9 1558.8,365.8 1561.5,366.0 1564.1,367.3 1566.8,370.2 1569.5,368.6 1572.1,371.5 1574.8,372.1 1577.4,372.4 1580.0,373.3 1582.7,374.8 1585.3,375.0 1588.0,374.7 1590.6,376.0 1593.2,376.6 1595.9,378.0 1598.5,380.8 1601.1,379.9 1603.8,379.6 1606.4,381.8 1609.0,383.8 1611.6,383.5 1614.2,385.2 1616.9,384.2 1619.5,385.0 1622.1,387.8 1624.8,386.8 1627.4,388.5 1630.0,389.6 1632.6,390.1 1635.2,390.7 1637.9,391.7 1640.5,395.8 1643.1,396.1 1645.8,398.0 1648.4,397.7 1651.0,400.3 1653.6,400.0 1656.2,399.3 1658.9,399.1 1661.5,399.1 1664.1,398.3 1666.8,398.9 1669.4,400.0 1672.0,398.4 1674.6,400.6 1677.2,399.6 1679.9,400.0 1682.5,400.7 1685.1,400.2 1687.8,398.7 1690.4,399.1 1693.0,398.4 1695.7,396.2 1698.4,396.9 1701.1,393.5 1703.8,392.5 1706.4,389.6 1709.1,385.9 1711.8,385.7 1714.5,383.4 1717.1,379.9 1719.8,376.7 1722.4,375.4 1725.0,372.9 1727.7,371.6 1730.3,368.7 1733.0,368.7 1735.6,367.5 1738.2,363.1 1740.9,362.9 1743.5,360.3 1746.2,357.9 1748.8,357.3 1751.4,353.6 1754.1,353.0 1756.7,348.5 1759.3,350.6 1761.9,347.2 1764.5,345.7 1767.1,347.6 1769.7,346.1 1772.3,345.1 1775.0,344.4 1777.6,342.3 1780.2,340.5 1782.8,340.3 1785.4,341.4 1788.0,340.5 1790.6,338.2 1793.1,339.0 1795.7,339.2 1798.3,340.7 1800.9,338.0 1803.4,340.7 1806.0,339.0 1808.6,340.0 1811.1,338.8 1813.7,338.7 1816.3,341.4 1818.9,340.3 1821.4,341.9 1824.0,341.7 1826.6,341.4 1829.1,339.4 1831.7,341.1 1834.3,342.5 1836.9,341.0 1839.4,339.8 1842.0,340.2 1844.6,342.9 1847.1,343.0 1849.7,340.8 1852.3,341.1 1854.9,342.5 1857.4,341.9 1860.0,341.0 1862.5,343.6 1865.0,342.5 1867.5,341.7 1870.0,340.6 1872.5,342.2 1875.0,343.0 1877.5,341.2 1880.0,341.0 1882.5,343.1 1885.0,343.7 1887.5,342.0 1890.0,342.4 1892.5,342.9 1895.0,342.6 1897.5,341.4 1900.0,341.9 1902.5,341.7 1905.0,341.7 1907.5,341.4 1910.0,342.4 1912.5,341.9 1915.0,344.0 1917.5,342.3 1920.0,344.4 1922.5,344.0 1925.0,342.3 1925.0,356.4 1922.5,356.7 1920.0,357.6 1917.5,358.3 1915.0,358.0 1912.5,358.0 1910.0,355.2 1907.5,355.8 1905.0,356.3 1902.5,357.1 1900.0,355.8 1897.5,355.6 1895.0,355.5 1892.5,355.2 1890.0,355.7 1887.5,355.1 1885.0,355.4 1882.5,354.9 1880.0,356.9 1877.5,354.7 1875.0,355.7 1872.5,354.7 1870.0,354.7 1867.5,355.2 1865.0,357.6 1862.5,355.7 1860.0,354.9 1857.4,354.5 1854.9,356.8 1852.3,354.8 1849.7,354.0 1847.1,353.9 1844.6,354.7 1842.0,354.3 1839.4,355.5 1836.9,354.7 1834.3,353.4 1831.7,353.9 1829.1,355.1 1826.6,355.6 1824.0,354.9 1821.4,355.3 1818.9,355.2 1816.3,355.0 1813.7,354.5 1811.1,353.1 1808.6,353.8 1806.0,354.5 1803.4,353.4 1800.9,351.3 1798.3,352.6 1795.7,352.2 1793.1,351.0 1790.6,351.9 1788.0,351.3 1785.4,351.5 1782.8,353.0 1780.2,354.8 1777.6,356.6 1775.0,357.1 1772.3,356.7 1769.7,359.2 1767.1,359.1 1764.5,361.8 1761.9,361.2 1759.3,362.1 1756.7,363.9 1754.1,365.1 1751.4,366.9 1748.8,371.0 1746.2,371.4 1743.5,373.2 1740.9,375.1 1738.2,378.2 1735.6,380.0 1733.0,383.1 1730.3,384.8 1727.7,385.5 1725.0,388.3 1722.4,391.9 1719.8,393.7 1717.1,393.7 1714.5,396.3 1711.8,399.9 1709.1,402.3 1706.4,402.2 1703.8,406.9 1701.1,407.8 1698.4,409.6 1695.7,412.3 1693.0,413.0 1690.4,415.4 1687.8,413.9 1685.1,413.5 1682.5,412.3 1679.9,412.3 1677.2,413.6 1674.6,414.7 1672.0,411.9 1669.4,411.5 1666.8,413.6 1664.1,412.3 1661.5,413.2 1658.9,413.5 1656.2,410.9 1653.6,413.5 1651.0,412.4 1648.4,410.0 1645.8,410.6 1643.1,408.7 1640.5,407.5 1637.9,407.4 1635.2,404.7 1632.6,405.6 1630.0,405.2 1627.4,403.8 1624.8,402.9 1622.1,402.3 1619.5,400.3 1616.9,401.3 1614.2,399.9 1611.6,397.4 1609.0,397.3 1606.4,397.4 1603.8,394.9 1601.1,396.0 1598.5,395.5 1595.9,394.6 1593.2,393.9 1590.6,393.5 1588.0,392.9 1585.3,391.3 1582.7,389.5 1580.0,387.7 1577.4,387.5 1574.8,388.3 1572.1,386.7 1569.5,386.2 1566.8,385.2 1564.1,382.7 1561.5,382.0 1558.8,382.3 1556.2,378.5 1553.5,378.9 1550.9,378.0 1548.2,377.1 1545.6,375.4 1543.1,377.4 1540.5,374.3 1538.0,375.7 1535.4,375.6 1532.9,376.0 1530.3,376.3 1527.8,373.4 1525.2,374.3 1522.7,375.3 1520.2,373.0 1517.6,373.8 1515.1,372.2 1512.5,374.2 1510.0,375.0 1507.4,372.6 1504.9,374.4 1502.4,372.1 1499.8,372.5 1497.3,373.3 1494.7,372.4 1492.2,370.9 1489.6,372.1 1487.1,371.7 1484.5,371.8 1482.0,370.3" fill="#1966dc" stroke="#1966dc" stroke-width="1.5" stroke-linejoin="round"/>
<polyline points="447.5,1057.0 452.0,1062.0 458.0,1069.0 463.0,1040.0 467.0,1012.0 474.0,1025.0 482.0,1033.0 487.0,1010.0 492.5,985.0 498.0,1000.0 504.5,1012.0 510.0,990.0 515.0,967.0 518.0,1000.0 521.0,1045.0 528.5,1030.0 534.5,994.0 539.0,910.0 543.0,860.0 546.5,826.0 553.0,812.0 560.0,805.0 569.0,820.0 578.0,865.0 587.0,925.0 593.0,970.0 597.0,1015.0 600.0,1096.0 604.0,1040.0 606.0,1012.0 609.0,1060.0 612.0,1120.0 616.0,1080.0 621.0,1039.0 627.0,961.0 632.0,1050.0 636.0,1135.0 642.0,1135.0 645.0,1050.0 648.0,961.0 654.0,1033.0 660.0,1120.0 663.0,1069.0 668.0,1110.0 675.0,1165.0 678.0,1042.0 687.0,997.0 690.0,925.0 696.0,967.0 702.0,1000.0 711.0,1060.0 716.0,1100.0 720.0,1138.0 725.0,1100.0 729.0,1060.0 732.0,979.0 735.0,919.0 738.0,844.0 744.0,781.0 750.0,800.0 753.0,820.0 762.0,844.0 766.0,877.0 771.0,796.0 777.0,745.0 783.0,760.0 788.0,800.0 792.0,850.0 798.0,898.0 804.0,970.0 810.0,916.0 813.0,838.0 817.5,778.0 822.0,829.0 825.0,907.0 826.5,997.0 831.0,874.0 834.0,760.0 837.0,640.0 840.0,555.0 845.0,600.0 850.0,680.0 855.0,775.0 858.0,910.0 864.0,970.0 870.0,1015.0 875.0,1050.0 879.0,1078.0 883.0,1030.0 885.0,985.0 888.0,808.0 892.0,700.0 894.0,561.0 900.0,530.0 903.0,507.0 910.0,515.0 918.0,516.0 927.0,540.0 933.0,495.0 936.0,429.0 942.0,399.0 948.0,366.0 957.0,357.0 960.0,358.0 971.0,356.0 990.0,356.0 1010.0,355.0 1022.0,356.0 1032.0,347.0 1045.0,346.0 1057.5,347.0 1068.0,368.0 1080.0,374.5 1093.0,379.0 1103.0,368.5 1108.6,357.0 1124.0,357.0 1134.0,362.0 1144.0,382.0 1157.0,398.0 1166.0,411.0 1185.0,422.5 1196.0,420.6 1203.0,435.0 1222.0,437.0 1240.0,456.0 1259.0,470.5 1277.0,487.0 1296.0,511.0 1314.0,537.0 1333.0,550.0 1351.0,559.0 1370.0,571.0 1380.0,582.0 1391.0,595.0 1398.0,612.0 1404.5,633.0 1411.0,681.0 1416.0,684.0 1422.0,678.0 1432.0,681.0 1437.0,692.0 1442.0,709.0 1449.0,740.0 1455.0,718.0 1460.0,702.0 1470.0,674.5 1478.6,664.0 1490.0,681.0 1493.0,683.0 1507.0,711.0 1521.0,743.6 1543.0,772.0 1564.0,793.6 1585.7,800.7 1614.0,795.0 1643.0,800.7 1658.6,788.0 1668.0,772.0 1677.7,751.0 1687.3,719.5 1693.7,687.6 1703.0,655.7 1709.6,623.8 1719.0,592.0 1728.7,560.0 1737.0,512.5 1746.4,478.0 1753.3,443.6 1760.0,409.0 1767.0,374.8 1774.0,351.8 1780.8,331.0 1790.0,337.5 1830.0,339.5 1870.0,348.0 1925.0,359.0" fill="none" stroke="#2ea862" stroke-width="7.0" stroke-linejoin="round" stroke-linecap="round" />
<polygon points="960.0,351.6 962.8,350.6 965.5,349.9 968.2,351.8 971.0,350.2 973.7,350.6 976.4,350.2 979.1,349.6 981.9,350.7 984.6,350.2 987.3,350.9 990.0,350.5 992.5,351.0 995.0,349.6 997.5,348.5 1000.0,348.4 1002.5,350.1 1005.0,348.2 1007.5,349.6 1010.0,349.4 1013.0,347.8 1016.0,350.4 1019.0,348.3 1022.0,351.2 1024.5,349.1 1027.0,345.1 1029.5,344.7 1032.0,342.7 1034.6,340.6 1037.2,342.1 1039.8,340.2 1042.4,342.5 1045.0,341.6 1047.5,342.7 1050.0,340.0 1052.5,341.0 1055.0,342.2 1057.5,342.3 1060.1,346.0 1062.8,353.2 1065.4,358.1 1068.0,361.4 1071.0,362.1 1074.0,365.0 1077.0,365.5 1080.0,367.5 1082.6,368.0 1085.2,368.7 1087.8,368.5 1090.4,369.8 1093.0,371.9 1095.5,370.2 1098.0,366.8 1100.5,365.3 1103.0,362.1 1105.8,358.2 1108.6,352.5 1111.2,351.4 1113.7,350.8 1116.3,350.6 1118.9,350.5 1121.4,353.2 1124.0,353.2 1126.5,353.8 1129.0,352.7 1131.5,355.5 1134.0,354.8 1134.0,369.1 1131.5,366.9 1129.0,366.1 1126.5,362.4 1124.0,361.4 1121.4,363.3 1118.9,363.4 1116.3,362.6 1113.7,361.5 1111.2,362.3 1108.6,362.0 1105.8,367.1 1103.0,375.9 1100.5,378.5 1098.0,379.5 1095.5,383.7 1093.0,386.0 1090.4,385.6 1087.8,385.8 1085.2,383.9 1082.6,381.3 1080.0,383.0 1077.0,381.3 1074.0,379.5 1071.0,376.0 1068.0,374.2 1065.4,369.2 1062.8,363.3 1060.1,359.1 1057.5,350.8 1055.0,352.4 1052.5,350.7 1050.0,350.9 1047.5,350.1 1045.0,351.2 1042.4,350.4 1039.8,350.0 1037.2,352.1 1034.6,350.8 1032.0,350.5 1029.5,353.4 1027.0,356.1 1024.5,360.2 1022.0,362.8 1019.0,363.0 1016.0,361.1 1013.0,362.6 1010.0,360.4 1007.5,362.4 1005.0,360.5 1002.5,362.0 1000.0,360.6 997.5,360.9 995.0,363.2 992.5,361.7 990.0,361.7 987.3,362.6 984.6,362.7 981.9,361.8 979.1,361.2 976.4,363.5 973.7,363.1 971.0,361.7 968.2,362.8 965.5,363.8 962.8,364.0 960.0,365.2" fill="#2ea862" stroke="#2ea862" stroke-width="1.5" stroke-linejoin="round"/>
<polygon points="1790.0,331.4 1792.5,329.5 1795.0,330.4 1797.5,330.3 1800.0,332.0 1802.5,331.9 1805.0,332.6 1807.5,330.1 1810.0,331.3 1812.5,330.1 1815.0,330.7 1817.5,331.7 1820.0,330.2 1822.5,330.8 1825.0,332.4 1827.5,332.1 1830.0,331.1 1832.5,332.8 1835.0,334.0 1837.5,331.9 1840.0,335.0 1842.5,335.1 1845.0,334.5 1847.5,334.4 1850.0,337.5 1852.5,336.0 1855.0,335.7 1857.5,336.2 1860.0,339.1 1862.5,338.8 1865.0,340.0 1867.5,340.2 1870.0,340.1 1872.5,342.1 1875.0,340.7 1877.5,341.8 1880.0,343.2 1882.5,343.1 1885.0,344.4 1887.5,344.1 1890.0,345.0 1892.5,343.5 1895.0,344.6 1897.5,345.3 1900.0,345.2 1902.5,346.2 1905.0,346.4 1907.5,347.5 1910.0,349.2 1912.5,348.8 1915.0,349.4 1917.5,349.4 1920.0,350.2 1922.5,352.9 1925.0,352.5 1925.0,367.5 1922.5,365.4 1920.0,364.9 1917.5,363.4 1915.0,364.6 1912.5,363.0 1910.0,363.4 1907.5,363.4 1905.0,363.1 1902.5,360.3 1900.0,362.6 1897.5,362.5 1895.0,360.6 1892.5,361.7 1890.0,359.3 1887.5,357.8 1885.0,358.5 1882.5,359.2 1880.0,358.2 1877.5,356.1 1875.0,355.5 1872.5,355.1 1870.0,356.0 1867.5,357.0 1865.0,354.0 1862.5,354.0 1860.0,355.0 1857.5,353.5 1855.0,351.9 1852.5,352.3 1850.0,350.7 1847.5,350.2 1845.0,350.2 1842.5,351.1 1840.0,348.9 1837.5,349.2 1835.0,347.5 1832.5,348.8 1830.0,348.4 1827.5,345.9 1825.0,345.9 1822.5,345.8 1820.0,344.8 1817.5,345.2 1815.0,346.8 1812.5,346.8 1810.0,346.1 1807.5,345.5 1805.0,345.6 1802.5,346.5 1800.0,344.4 1797.5,343.5 1795.0,345.1 1792.5,343.1 1790.0,344.3" fill="#2ea862" stroke="#2ea862" stroke-width="1.5" stroke-linejoin="round"/>
<polyline points="448.5,1052.5 453.5,1029.5 458.5,1005.5 467.5,967.5 478.5,923.5 491.2,868.5 499.5,830.5 508.3,792.1 515.5,752.5 521.9,715.5 529.5,676.5 537.2,639.0 545.5,599.5 551.5,568.5 556.5,542.5 561.5,516.5 567.5,492.5 576.5,469.5 585.5,456.5 596.5,444.5 609.5,435.5 621.5,430.5 641.5,425.5 681.5,422.5 721.5,422.5 761.5,422.5 781.5,425.5 811.5,428.5 829.5,440.5 844.5,458.5 853.5,482.5 861.0,512.5 867.0,557.5 871.5,602.5 876.0,662.5 879.5,702.5 883.5,728.5 888.5,717.5 892.5,692.5 898.5,637.5 903.5,582.5 907.5,537.5 910.5,507.5 913.5,482.5 916.5,457.5 920.0,430.5 923.5,404.5 927.5,388.5 932.5,372.5 938.5,359.5 947.5,345.5 955.0,345.0 980.0,342.0 1000.0,341.5 1030.0,341.0 1050.0,343.0 1068.0,356.0 1085.0,359.5 1100.0,356.0 1113.0,345.0 1140.0,345.0 1160.0,341.1 1190.6,336.5 1221.0,329.2 1251.8,323.0 1282.4,320.0 1313.0,320.0 1343.7,323.0 1374.0,329.2 1400.0,336.5 1418.6,356.8 1438.4,378.5 1454.0,408.0 1466.0,438.0 1476.0,473.0 1486.0,507.0 1494.0,546.6 1503.6,593.6 1514.0,647.0 1528.6,736.0 1539.0,808.0 1550.0,879.0 1564.0,950.7 1582.0,1015.0 1600.0,1026.0 1628.6,1018.6 1646.0,990.0 1647.1,993.5 1656.5,971.0 1664.5,945.7 1672.5,913.8 1680.5,882.0 1688.5,850.0 1695.0,818.0 1702.9,786.0 1710.9,754.0 1717.3,722.5 1723.0,690.6 1729.5,658.7 1736.5,626.8 1742.8,595.0 1749.2,563.0 1754.5,531.0 1760.1,495.0 1764.8,462.0 1770.0,430.0 1776.0,400.0 1785.4,363.3 1792.3,340.3 1805.0,323.5 1860.0,323.2 1925.0,323.2" fill="none" stroke="#a870ea" stroke-width="7.0" stroke-linejoin="round" stroke-linecap="round" />
<polygon points="955.0,339.2 957.5,339.7 960.0,338.3 962.5,340.1 965.0,337.9 967.5,338.7 970.0,339.6 972.5,337.6 975.0,339.1 977.5,338.0 980.0,337.2 982.5,337.3 985.0,337.0 987.5,336.2 990.0,338.1 992.5,336.1 995.0,337.8 997.5,337.3 1000.0,334.5 1002.5,335.1 1005.0,335.8 1007.5,336.8 1010.0,334.6 1012.5,336.0 1015.0,335.1 1017.5,336.3 1020.0,336.7 1022.5,336.1 1025.0,334.2 1027.5,335.9 1030.0,334.8 1032.5,336.5 1035.0,335.7 1037.5,337.4 1040.0,338.1 1042.5,337.9 1045.0,338.3 1047.5,338.6 1050.0,338.3 1052.6,338.7 1055.1,343.0 1057.7,343.0 1060.3,343.3 1062.9,346.4 1065.4,348.0 1068.0,349.0 1070.8,351.8 1073.7,349.4 1076.5,352.3 1079.3,351.5 1082.2,350.6 1085.0,351.5 1087.5,351.5 1090.0,350.1 1092.5,351.8 1095.0,351.2 1097.5,351.9 1100.0,351.1 1102.6,348.9 1105.2,347.6 1107.8,345.4 1110.4,342.5 1113.0,340.1 1115.7,340.1 1118.4,341.0 1121.1,341.4 1123.8,341.1 1126.5,341.1 1129.2,338.5 1131.9,339.7 1134.6,338.7 1137.3,340.3 1140.0,340.3 1142.5,339.9 1145.0,340.5 1147.5,338.2 1150.0,339.5 1152.5,338.8 1155.0,337.3 1157.5,339.4 1160.0,336.2 1162.5,337.0 1165.1,336.7 1167.7,336.4 1170.2,337.1 1172.8,335.2 1175.3,335.7 1177.8,333.3 1180.4,333.4 1182.9,331.8 1185.5,332.9 1188.0,331.7 1190.6,332.3 1193.1,329.6 1195.7,330.2 1198.2,331.3 1200.7,327.7 1203.3,329.2 1205.8,328.8 1208.3,328.4 1210.9,327.3 1213.4,326.6 1215.9,327.5 1218.5,324.8 1221.0,325.7 1223.6,325.0 1226.1,324.7 1228.7,323.4 1231.3,321.5 1233.8,323.4 1236.4,321.3 1239.0,322.4 1241.5,322.6 1244.1,321.4 1246.7,319.7 1249.2,320.6 1251.8,318.6 1254.3,318.1 1256.9,318.6 1259.5,318.5 1262.0,318.3 1264.5,317.5 1267.1,316.7 1269.7,317.4 1272.2,315.8 1274.8,316.3 1277.3,314.1 1279.9,314.2 1282.4,316.2 1285.0,314.1 1287.5,314.7 1290.1,313.6 1292.6,315.8 1295.2,314.5 1297.7,313.6 1300.2,314.3 1302.8,316.4 1305.3,315.8 1307.9,313.4 1310.5,316.5 1313.0,313.6 1315.6,315.3 1318.1,315.8 1320.7,316.9 1323.2,315.2 1325.8,317.7 1328.3,316.3 1330.9,318.1 1333.5,319.0 1336.0,318.3 1338.6,316.7 1341.1,319.2 1343.7,318.8 1346.2,320.2 1348.8,320.9 1351.3,319.2 1353.8,321.2 1356.3,322.0 1358.8,323.4 1361.4,322.9 1363.9,323.4 1366.4,324.4 1369.0,322.9 1371.5,325.7 1374.0,325.3 1376.6,326.1 1379.2,325.2 1381.8,327.0 1384.4,327.3 1387.0,327.3 1389.6,330.3 1392.2,330.6 1394.8,330.0 1397.4,329.4 1400.0,332.9 1400.0,341.1 1397.4,341.6 1394.8,339.8 1392.2,340.8 1389.6,339.6 1387.0,338.6 1384.4,338.1 1381.8,335.0 1379.2,334.4 1376.6,334.2 1374.0,335.1 1371.5,333.7 1369.0,331.8 1366.4,331.8 1363.9,330.1 1361.4,329.4 1358.8,328.8 1356.3,331.2 1353.8,330.4 1351.3,328.0 1348.8,328.6 1346.2,327.7 1343.7,326.3 1341.1,327.1 1338.6,325.8 1336.0,325.6 1333.5,326.8 1330.9,325.9 1328.3,325.1 1325.8,324.8 1323.2,325.8 1320.7,324.0 1318.1,325.0 1315.6,325.9 1313.0,324.6 1310.5,326.1 1307.9,325.7 1305.3,324.3 1302.8,324.0 1300.2,326.1 1297.7,323.4 1295.2,324.3 1292.6,325.7 1290.1,324.3 1287.5,326.4 1285.0,326.2 1282.4,325.2 1279.9,325.1 1277.3,326.2 1274.8,324.6 1272.2,326.2 1269.7,325.0 1267.1,325.7 1264.5,325.4 1262.0,327.4 1259.5,327.6 1256.9,327.3 1254.3,325.7 1251.8,326.2 1249.2,326.0 1246.7,328.0 1244.1,327.3 1241.5,330.4 1239.0,330.5 1236.4,329.2 1233.8,329.9 1231.3,330.4 1228.7,330.4 1226.1,333.2 1223.6,332.5 1221.0,334.0 1218.5,333.8 1215.9,334.6 1213.4,334.6 1210.9,336.8 1208.3,338.4 1205.8,338.6 1203.3,339.1 1200.7,340.3 1198.2,338.7 1195.7,341.7 1193.1,340.4 1190.6,340.1 1188.0,340.8 1185.5,343.5 1182.9,343.2 1180.4,341.8 1177.8,341.5 1175.3,343.0 1172.8,343.9 1170.2,344.6 1167.7,344.8 1165.1,343.3 1162.5,345.2 1160.0,345.4 1157.5,344.3 1155.0,344.8 1152.5,347.5 1150.0,347.4 1147.5,348.4 1145.0,348.0 1142.5,350.1 1140.0,350.8 1137.3,350.8 1134.6,350.5 1131.9,350.0 1129.2,348.9 1126.5,350.0 1123.8,349.7 1121.1,348.5 1118.4,350.6 1115.7,351.1 1113.0,351.3 1110.4,352.4 1107.8,355.6 1105.2,357.4 1102.6,358.3 1100.0,361.9 1097.5,364.2 1095.0,362.7 1092.5,364.0 1090.0,365.1 1087.5,366.3 1085.0,365.6 1082.2,366.1 1079.3,363.8 1076.5,363.4 1073.7,362.3 1070.8,363.4 1068.0,361.7 1065.4,360.0 1062.9,356.5 1060.3,355.6 1057.7,354.2 1055.1,352.6 1052.6,350.8 1050.0,346.7 1047.5,348.8 1045.0,347.7 1042.5,346.6 1040.0,346.3 1037.5,346.7 1035.0,348.2 1032.5,347.2 1030.0,345.7 1027.5,346.4 1025.0,348.1 1022.5,345.5 1020.0,345.4 1017.5,347.1 1015.0,348.0 1012.5,346.9 1010.0,345.7 1007.5,348.0 1005.0,345.9 1002.5,346.1 1000.0,346.0 997.5,348.0 995.0,346.1 992.5,348.5 990.0,345.6 987.5,345.7 985.0,347.0 982.5,348.4 980.0,347.9 977.5,346.8 975.0,348.6 972.5,349.4 970.0,348.2 967.5,348.8 965.0,349.3 962.5,350.2 960.0,349.6 957.5,349.7 955.0,348.8" fill="#a870ea" stroke="#a870ea" stroke-width="1.5" stroke-linejoin="round"/>
<polygon points="1805.0,318.5 1807.5,315.6 1810.0,317.7 1812.5,316.9 1815.0,318.3 1817.5,316.6 1820.0,318.2 1822.5,315.8 1825.0,318.4 1827.5,316.5 1830.0,315.8 1832.5,316.3 1835.0,317.1 1837.5,315.2 1840.0,316.3 1842.5,315.1 1845.0,315.3 1847.5,315.6 1850.0,315.7 1852.5,315.8 1855.0,317.4 1857.5,316.3 1860.0,317.6 1862.5,317.8 1865.0,317.8 1867.5,317.9 1870.0,316.7 1872.5,317.0 1875.0,317.7 1877.5,316.6 1880.0,315.4 1882.5,316.6 1885.0,316.6 1887.5,315.5 1890.0,315.2 1892.5,315.5 1895.0,317.1 1897.5,317.5 1900.0,317.0 1902.5,316.3 1905.0,315.0 1907.5,314.9 1910.0,317.0 1912.5,316.6 1915.0,316.4 1917.5,315.4 1920.0,315.3 1922.5,315.5 1925.0,315.3 1925.0,330.9 1922.5,328.7 1920.0,331.1 1917.5,329.2 1915.0,329.1 1912.5,329.4 1910.0,331.6 1907.5,330.6 1905.0,328.9 1902.5,330.9 1900.0,330.2 1897.5,328.5 1895.0,329.9 1892.5,328.9 1890.0,330.5 1887.5,330.0 1885.0,330.4 1882.5,330.8 1880.0,328.9 1877.5,330.1 1875.0,328.5 1872.5,328.6 1870.0,329.6 1867.5,331.3 1865.0,330.7 1862.5,328.9 1860.0,330.5 1857.5,328.6 1855.0,330.5 1852.5,330.1 1850.0,331.3 1847.5,330.8 1845.0,331.1 1842.5,330.6 1840.0,329.2 1837.5,331.0 1835.0,331.4 1832.5,329.8 1830.0,331.0 1827.5,331.1 1825.0,331.5 1822.5,328.9 1820.0,330.9 1817.5,330.8 1815.0,330.2 1812.5,329.8 1810.0,330.2 1807.5,329.4 1805.0,330.3" fill="#a870ea" stroke="#a870ea" stroke-width="1.5" stroke-linejoin="round"/>
<polyline points="447.0,1050.0 452.0,1027.0 457.0,1003.0 466.0,965.0 477.0,921.0 489.7,866.0 498.0,828.0 506.8,789.6 514.0,750.0 520.4,713.0 528.0,674.0 535.7,636.5 544.0,597.0 550.0,566.0 555.0,540.0 560.0,514.0 566.0,490.0 575.0,467.0 584.0,454.0 595.0,442.0 608.0,433.0 620.0,428.0 640.0,423.0 680.0,420.0 720.0,420.0 760.0,420.0 780.0,423.0 810.0,426.0 828.0,438.0 843.0,456.0 852.0,480.0 859.5,510.0 865.5,555.0 870.0,600.0 874.5,660.0 878.0,700.0 882.0,726.0 887.0,715.0 891.0,690.0 897.0,635.0 902.0,580.0 906.0,535.0 909.0,505.0 912.0,480.0 915.0,455.0 918.5,428.0 922.0,402.0 926.0,386.0 931.0,370.0 937.0,357.0 946.0,343.0 954.0,339.0 955.0,338.0 960.6,335.7 981.0,331.6 1001.4,329.1 1016.7,327.1 1027.0,325.5 1032.0,320.4 1037.0,325.5 1047.3,324.9 1062.7,336.7 1078.0,345.4 1093.0,349.4 1108.6,335.7 1124.0,333.8 1144.0,331.1 1160.0,330.3 1190.6,325.2 1221.0,318.0 1251.8,311.5 1282.4,309.5 1313.0,309.0 1343.7,312.5 1364.0,316.0 1384.5,324.2 1400.0,328.2 1418.6,345.0 1438.4,368.6 1454.0,398.0 1466.0,424.0 1476.0,457.6 1486.0,487.0 1496.0,527.0 1502.0,560.0 1507.0,593.6 1518.0,647.0 1528.6,718.6 1539.0,790.0 1550.0,861.0 1560.7,915.0 1575.0,968.6 1593.0,1004.0 1607.0,1005.0 1621.0,1004.0 1639.0,997.0 1642.6,990.5 1652.0,968.0 1660.0,942.7 1668.0,910.8 1676.0,879.0 1684.0,847.0 1690.5,815.0 1698.4,783.0 1706.4,751.0 1712.8,719.5 1718.5,687.6 1725.0,655.7 1732.0,623.8 1738.3,592.0 1744.7,560.0 1750.0,528.0 1755.6,492.0 1764.8,443.6 1774.0,397.7 1780.8,363.3 1787.7,329.0 1794.6,310.5 1799.0,301.0 1860.0,301.2 1925.0,299.5" fill="none" stroke="#cc9900" stroke-width="7.0" stroke-linejoin="round" stroke-linecap="round" />
<polygon points="955.0,333.0 957.8,332.5 960.6,332.6 963.1,330.4 965.7,329.8 968.2,330.3 970.8,329.0 973.4,328.0 975.9,327.5 978.5,326.6 981.0,325.4 983.5,326.4 986.1,326.7 988.6,325.6 991.2,324.9 993.8,323.4 996.3,323.2 998.9,321.8 1001.4,323.1 1004.0,321.2 1006.5,320.7 1009.0,322.4 1011.6,319.9 1014.2,321.4 1016.7,319.8 1019.3,319.1 1021.9,317.6 1024.4,315.1 1027.0,315.7 1029.5,308.7 1032.0,303.7 1034.5,308.3 1037.0,313.6 1039.6,314.6 1042.2,313.4 1044.7,314.6 1047.3,316.1 1049.9,317.7 1052.4,316.9 1055.0,316.9 1057.6,318.8 1060.1,318.9 1062.7,320.5 1065.2,324.3 1067.8,326.9 1070.3,327.6 1072.9,331.6 1075.5,333.9 1078.0,336.4 1080.5,336.4 1083.0,338.1 1085.5,338.0 1088.0,340.7 1090.5,341.4 1093.0,342.2 1095.6,337.8 1098.2,335.8 1100.8,330.2 1103.4,325.9 1106.0,322.7 1108.6,320.7 1111.2,319.0 1113.7,321.6 1116.3,322.9 1118.9,323.3 1121.4,322.7 1124.0,323.3 1126.5,324.7 1129.0,324.2 1131.5,324.5 1134.0,322.5 1136.5,323.8 1139.0,324.3 1141.5,322.7 1144.0,322.6 1146.7,324.5 1149.3,323.6 1152.0,323.0 1154.7,323.1 1157.3,322.3 1160.0,322.2 1162.5,321.4 1165.1,322.0 1167.7,320.9 1170.2,322.9 1172.8,322.8 1175.3,321.3 1177.8,319.4 1180.4,320.6 1182.9,318.9 1185.5,319.3 1188.0,318.1 1190.6,319.0 1193.1,317.0 1195.7,317.0 1198.2,316.1 1200.7,316.2 1203.3,317.0 1205.8,315.3 1208.3,315.2 1210.9,314.4 1213.4,313.1 1215.9,311.0 1218.5,310.3 1221.0,309.8 1223.6,310.6 1226.1,309.7 1228.7,311.1 1231.3,308.4 1233.8,307.7 1236.4,309.0 1239.0,308.4 1241.5,306.2 1244.1,306.8 1246.7,306.7 1249.2,307.4 1251.8,306.9 1254.3,307.0 1256.9,305.8 1259.5,306.9 1262.0,305.2 1264.5,304.5 1267.1,303.8 1269.7,305.9 1272.2,305.1 1274.8,304.9 1277.3,305.9 1279.9,304.6 1282.4,303.4 1285.0,304.5 1287.5,305.2 1290.1,302.7 1292.6,305.1 1295.2,303.3 1297.7,302.3 1300.2,303.4 1302.8,304.2 1305.3,303.2 1307.9,302.4 1310.5,303.9 1313.0,301.7 1315.6,304.0 1318.1,303.4 1320.7,304.6 1323.2,304.7 1325.8,304.4 1328.3,304.6 1330.9,306.9 1333.5,306.2 1336.0,306.1 1338.6,307.5 1341.1,308.4 1343.7,306.7 1346.2,308.2 1348.8,307.6 1351.3,310.0 1353.8,308.0 1356.4,310.9 1358.9,310.4 1361.5,310.7 1364.0,311.1 1366.6,311.0 1369.1,312.3 1371.7,312.2 1374.2,313.5 1376.8,315.1 1379.4,315.9 1381.9,315.7 1384.5,317.4 1387.1,318.9 1389.7,319.9 1392.2,318.4 1394.8,321.0 1397.4,320.9 1400.0,324.0 1400.0,332.7 1397.4,334.0 1394.8,331.6 1392.2,332.8 1389.7,331.8 1387.1,331.5 1384.5,332.4 1381.9,329.2 1379.4,327.2 1376.8,326.2 1374.2,325.1 1371.7,324.0 1369.1,322.7 1366.6,323.9 1364.0,322.4 1361.5,319.6 1358.9,321.5 1356.4,319.5 1353.8,317.4 1351.3,318.3 1348.8,319.6 1346.2,316.3 1343.7,316.0 1341.1,316.4 1338.6,318.3 1336.0,316.3 1333.5,317.4 1330.9,315.0 1328.3,316.9 1325.8,317.2 1323.2,316.4 1320.7,315.2 1318.1,316.6 1315.6,314.4 1313.0,315.3 1310.5,316.4 1307.9,315.0 1305.3,314.8 1302.8,314.6 1300.2,316.1 1297.7,316.3 1295.2,316.5 1292.6,313.6 1290.1,315.6 1287.5,314.0 1285.0,316.4 1282.4,314.2 1279.9,315.5 1277.3,316.8 1274.8,315.3 1272.2,314.3 1269.7,314.6 1267.1,315.4 1264.5,315.4 1262.0,316.6 1259.5,315.2 1256.9,316.3 1254.3,317.5 1251.8,317.7 1249.2,318.4 1246.7,318.2 1244.1,318.9 1241.5,319.9 1239.0,319.4 1236.4,321.9 1233.8,322.5 1231.3,322.4 1228.7,323.1 1226.1,323.2 1223.6,323.4 1221.0,325.1 1218.5,324.1 1215.9,324.5 1213.4,327.6 1210.9,328.4 1208.3,328.8 1205.8,328.6 1203.3,329.9 1200.7,329.7 1198.2,329.8 1195.7,329.8 1193.1,330.5 1190.6,330.0 1188.0,333.0 1185.5,332.0 1182.9,332.2 1180.4,332.7 1177.8,334.4 1175.3,333.4 1172.8,336.3 1170.2,334.3 1167.7,335.3 1165.1,335.7 1162.5,337.0 1160.0,338.7 1157.3,336.8 1154.7,339.3 1152.0,338.8 1149.3,339.4 1146.7,337.8 1144.0,339.2 1141.5,340.8 1139.0,340.9 1136.5,341.1 1134.0,340.2 1131.5,342.5 1129.0,344.0 1126.5,343.6 1124.0,343.2 1121.4,344.0 1118.9,348.2 1116.3,346.9 1113.7,349.4 1111.2,349.7 1108.6,352.1 1106.0,353.8 1103.4,352.7 1100.8,353.7 1098.2,353.9 1095.6,355.6 1093.0,355.7 1090.5,354.9 1088.0,354.5 1085.5,356.6 1083.0,355.3 1080.5,355.1 1078.0,354.4 1075.5,352.5 1072.9,352.5 1070.3,353.2 1067.8,354.1 1065.2,353.4 1062.7,350.5 1060.1,349.3 1057.6,346.4 1055.0,344.8 1052.4,342.1 1049.9,337.5 1047.3,333.8 1044.7,336.3 1042.2,336.3 1039.6,335.3 1037.0,337.5 1034.5,337.4 1032.0,335.4 1029.5,336.8 1027.0,335.0 1024.4,336.6 1021.9,333.8 1019.3,333.7 1016.7,334.4 1014.2,336.2 1011.6,334.5 1009.0,335.0 1006.5,336.8 1004.0,334.2 1001.4,336.7 998.9,336.0 996.3,337.5 993.8,337.5 991.2,335.6 988.6,337.8 986.1,336.1 983.5,336.9 981.0,336.3 978.5,335.9 975.9,336.8 973.4,336.4 970.8,336.8 968.2,340.0 965.7,338.1 963.1,339.4 960.6,340.2 957.8,341.2 955.0,343.3" fill="#cc9900" stroke="#cc9900" stroke-width="1.5" stroke-linejoin="round"/>
<polygon points="1799.0,296.4 1801.5,294.0 1804.1,296.5 1806.6,294.2 1809.2,294.9 1811.7,296.3 1814.2,294.5 1816.8,295.0 1819.3,293.9 1821.9,296.5 1824.4,296.6 1827.0,293.9 1829.5,293.8 1832.0,294.9 1834.6,295.1 1837.1,295.9 1839.7,294.5 1842.2,295.3 1844.8,293.9 1847.3,294.1 1849.8,293.7 1852.4,295.1 1854.9,295.2 1857.5,295.4 1860.0,296.4 1862.5,294.3 1865.0,294.3 1867.5,294.7 1870.0,296.1 1872.5,294.0 1875.0,293.9 1877.5,294.2 1880.0,295.0 1882.5,293.6 1885.0,293.2 1887.5,294.9 1890.0,294.3 1892.5,294.3 1895.0,292.4 1897.5,293.0 1900.0,292.5 1902.5,293.3 1905.0,294.9 1907.5,295.1 1910.0,294.6 1912.5,293.0 1915.0,293.5 1917.5,294.5 1920.0,292.7 1922.5,292.8 1925.0,293.7 1925.0,304.7 1922.5,306.4 1920.0,306.8 1917.5,307.1 1915.0,304.7 1912.5,305.7 1910.0,306.7 1907.5,305.7 1905.0,305.1 1902.5,307.1 1900.0,305.1 1897.5,305.5 1895.0,306.6 1892.5,307.7 1890.0,306.5 1887.5,305.4 1885.0,307.9 1882.5,305.9 1880.0,307.7 1877.5,306.2 1875.0,306.8 1872.5,306.4 1870.0,308.6 1867.5,308.7 1865.0,306.0 1862.5,307.1 1860.0,308.6 1857.5,307.7 1854.9,308.9 1852.4,308.8 1849.8,308.9 1847.3,309.0 1844.8,308.9 1842.2,306.6 1839.7,307.8 1837.1,307.0 1834.6,306.1 1832.0,307.8 1829.5,306.7 1827.0,307.3 1824.4,306.3 1821.9,307.7 1819.3,305.9 1816.8,307.6 1814.2,305.6 1811.7,305.8 1809.2,307.1 1806.6,308.1 1804.1,306.6 1801.5,306.9 1799.0,306.5" fill="#cc9900" stroke="#cc9900" stroke-width="1.5" stroke-linejoin="round"/>
</g>
<line x1="956.8" y1="783.5" x2="956.8" y2="862" stroke="#2a82c4" stroke-width="3.5"/><polygon points="956.8,763.1 946.8,783.5 966.8,783.5" fill="#2a82c4"/>
<line x1="1414.3" y1="976.6" x2="1414.3" y2="1054.8" stroke="#2a82c4" stroke-width="3.5"/><polygon points="1414.3,957.3 1404.3,976.6 1424.3,976.6" fill="#2a82c4"/>
<line x1="854.5" y1="1090.2" x2="854.5" y2="1167.8" stroke="#2a82c4" stroke-width="3.5"/><polygon points="854.5,1072 844.5,1090.2 864.5,1090.2" fill="#2a82c4"/>
<line x1="716.6" y1="1166" x2="716.6" y2="1243.5" stroke="#2a82c4" stroke-width="3.5"/><polygon points="716.6,1147 706.6,1166 726.6,1166" fill="#2a82c4"/>
<line x1="633.3" y1="840.5" x2="633.3" y2="925" stroke="#2a82c4" stroke-width="3.5"/><polygon points="633.3,821.4 623.3,840.5 643.3,840.5" fill="#2a82c4"/>
<line x1="510.3" y1="1243.1" x2="597" y2="1243.1" stroke="#2a82c4" stroke-width="3.5"/>
<polygon points="615.8,1243.1 596.5,1233.6 596.5,1252.6" fill="#2a82c4"/>
<polygon points="901.7,1149 942.5,1171.8 942.5,1220 901.7,1242.8 860.8,1220 860.8,1171.8" fill="none" stroke="#b4b4b4" stroke-width="4.5"/>
<line x1="903" y1="1157" x2="936" y2="1175.5" stroke="#9a9a9a" stroke-width="3"/>
<line x1="867.5" y1="1176" x2="867.5" y2="1216" stroke="#9a9a9a" stroke-width="3"/>
<line x1="903" y1="1235" x2="936" y2="1216.5" stroke="#9a9a9a" stroke-width="3"/>
<g transform="matrix(1.0371 0 0 1.0444 -33.91 -41.91)"><text font-family="'Liberation Sans', Arial, Helvetica, sans-serif" font-size="65.6" fill="#55595e" x="932" y="933.6">C = O</text></g>
<g transform="matrix(1.0377 0 0 1.0356 -50.63 -39.62)"><text font-family="'Liberation Sans', Arial, Helvetica, sans-serif" font-size="65" fill="#1e1e1e" x="1361" y="1102.6">C–H</text></g>
<g transform="matrix(0.9700 0 0 1.0655 45.27 -72.67)"><text font-family="'Liberation Sans', Arial, Helvetica, sans-serif" font-size="43" fill="#1e1e1e" x="1497" y="1102.6">3</text></g>
<g transform="matrix(1.0768 0 0 1.0289 -25.97 -38.32)"><text font-family="'Liberation Sans', Arial, Helvetica, sans-serif" font-size="64.7" fill="#1e1e1e" x="324" y="1315.7">R–O–R</text></g>
<g transform="matrix(1.0688 0 0 1.0311 -45.36 -40.39)"><text font-family="'Liberation Sans', Arial, Helvetica, sans-serif" font-size="64.7" fill="#1e1e1e" x="668" y="1311.4">O–H</text></g>
<g id="legend">
<rect x="1806" y="814" width="606" height="515" fill="#fff"/>
<rect x="1800" y="809" width="6" height="524" fill="#777"/>
<rect x="1800" y="809" width="616" height="4.5" fill="#8a8a8a"/>
<rect x="2411.5" y="809" width="5.5" height="527" fill="#2d2d2d"/>
<rect x="1803" y="1331.5" width="614" height="4.5" fill="#2d2d2d"/>
<rect x="1806" y="1328" width="606" height="3.5" fill="#dcdcdc"/>
<rect x="2407" y="813" width="4.5" height="518" fill="#e0e0e0"/>
<line x1="1811" y1="858" x2="1990" y2="858" stroke="#4b4b4b" stroke-width="6.5"/>
<line x1="1811" y1="941.2" x2="1990" y2="941.2" stroke="#f04242" stroke-width="6.5"/>
<line x1="1811" y1="1028" x2="1990" y2="1028" stroke="#1966dc" stroke-width="6.5"/>
<line x1="1811" y1="1111" x2="1990" y2="1111" stroke="#2ea862" stroke-width="6.5"/>
<line x1="1811" y1="1197.8" x2="1990" y2="1197.8" stroke="#a870ea" stroke-width="6.5"/>
<line x1="1811" y1="1284" x2="1990" y2="1284" stroke="#cc9900" stroke-width="6.5"/>
<g transform="matrix(1.0792 0 0 0.9962 -161.04 2.39)"><text font-family="'Liberation Sans', Arial, Helvetica, sans-serif" font-size="72.3" fill="#111" x="2008" y="881">DPPC</text></g>
<g transform="matrix(1.0745 0 0 0.9774 -149.51 22.27)"><text font-family="'Liberation Sans', Arial, Helvetica, sans-serif" font-size="72.3" fill="#111" x="2008" y="965">Cholesterol</text></g>
<g transform="matrix(1.0769 0 0 0.9962 -156.52 3.44)"><text font-family="'Liberation Sans', Arial, Helvetica, sans-serif" font-size="72.3" fill="#111" x="2008" y="1050">PEG 2000</text></g>
<g transform="matrix(1.0759 0 0 0.9612 -152.56 44.23)"><text font-family="'Liberation Sans', Arial, Helvetica, sans-serif" font-size="72.3" fill="#111" x="2008" y="1135">Silymarin</text></g>
<g transform="matrix(1.0804 0 0 1.0231 -161.61 -29.20)"><text font-family="'Liberation Sans', Arial, Helvetica, sans-serif" font-size="72.3" fill="#111" x="2008" y="1221">SLNPs</text></g>
<g transform="matrix(1.0889 0 0 1.0157 -180.62 -21.10)"><text font-family="'Liberation Sans', Arial, Helvetica, sans-serif" font-size="72.3" fill="#111" x="2008" y="1306">BLNPs</text></g>
</g>
</svg>
</body></html>
